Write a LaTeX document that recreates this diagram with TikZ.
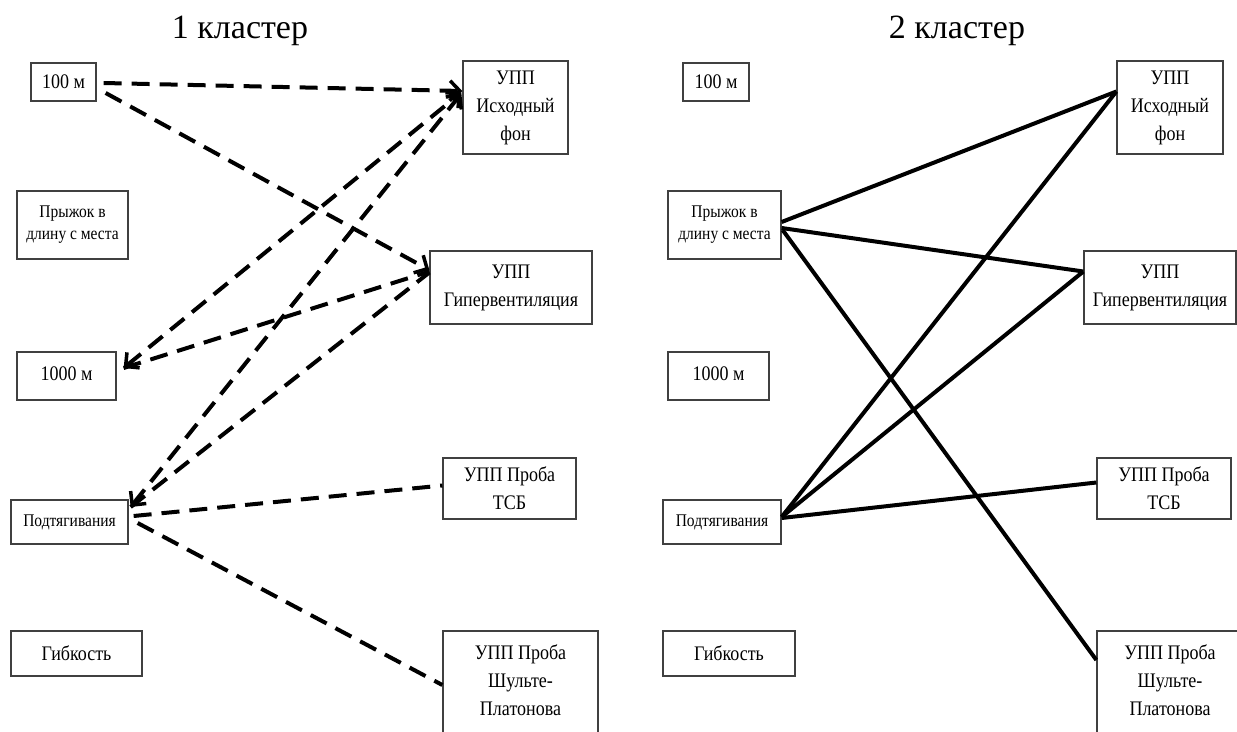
\documentclass[tikz,border=0pt]{standalone}
\usepackage{fontspec}
\usepackage{graphicx}
\setmainfont{Liberation Serif}
\usetikzlibrary{arrows.meta,calc}
\newcommand\tx[1]{\scalebox{1}[1.15]{#1}}
\newcommand\txr[1]{\raisebox{5pt}{\scalebox{1}[1.15]{#1}}}
\begin{document}
\begin{tikzpicture}[x=1pt,y=-1pt,
  box/.style={draw=black!75, line width=1.3pt, inner sep=0pt, align=center, font=\fontsize{18}{28}\selectfont},
  sbox/.style={box, font=\fontsize{15.5}{22}\selectfont},
  ttl/.style={inner sep=0pt, font=\fontsize{34}{38}\selectfont},
  dl/.style={line width=4pt, dash pattern=on 18pt off 10pt},
  sl/.style={line width=4pt},
  tipend/.style={-{Straight Barb[length=10pt,width=20pt,line width=3.5pt]}},
  tipboth/.style={{Straight Barb[length=10pt,width=20pt,line width=3.5pt]}-{Straight Barb[length=10pt,width=20pt,line width=3.5pt]}}
]
\fill[white] (0,0) rectangle (1237,731);
\useasboundingbox (0,0) rectangle (1237,731);

% titles
\node[ttl] (t1) at (240,31) {1 кластер};
\node[ttl] (t2) at (957,31) {2 кластер};

% left cluster
\node[box, minimum width=65pt, minimum height=38pt] (a100) at (63.5,82) {\tx{100 м}};
\node[box, minimum width=105pt, minimum height=93pt] (aisx) at (515.5,107.5) {\tx{УПП}\\\tx{Исходный}\\\tx{фон}};
\node[sbox, minimum width=111pt, minimum height=68pt] (ajump) at (72.5,225) {\txr{Прыжок в}\\\txr{длину с места}};
\node[box, minimum width=162pt, minimum height=73pt] (ahyp) at (511,287.5) {\tx{УПП}\\\tx{Гипервентиляция}};
\node[box, minimum width=99pt, minimum height=48pt] (a1000) at (66.5,376) {\txr{1000 м}};
\node[sbox, minimum width=117pt, minimum height=44pt] (apull) at (69.5,522) {\tx{Подтягивания}};
\node[box, minimum width=133pt, minimum height=61pt] (atsb) at (509.5,488.5) {\tx{УПП Проба}\\\tx{ТСБ}};
\node[box, minimum width=131pt, minimum height=45pt] (aflex) at (76.5,653.5) {\tx{Гибкость}};
\node[box, minimum width=155pt, minimum height=104pt] (ashu) at (520.5,683) {\txr{УПП Проба}\\\txr{Шульте-}\\\txr{Платонова}};

% right cluster
\node[box, minimum width=66pt, minimum height=38pt] (b100) at (716,82) {\tx{100 м}};
\node[box, minimum width=106pt, minimum height=93pt] (bisx) at (1170,107.5) {\tx{УПП}\\\tx{Исходный}\\\tx{фон}};
\node[sbox, minimum width=113pt, minimum height=68pt] (bjump) at (724.5,225) {\txr{Прыжок в}\\\txr{длину с места}};
\node[box, minimum width=152pt, minimum height=73pt] (bhyp) at (1160,287.5) {\tx{УПП}\\\tx{Гипервентиляция}};
\node[box, minimum width=101pt, minimum height=48pt] (b1000) at (718.5,376) {\txr{1000 м}};
\node[sbox, minimum width=118pt, minimum height=44pt] (bpull) at (722,522) {\tx{Подтягивания}};
\node[box, minimum width=134pt, minimum height=61pt] (btsb) at (1164,488.5) {\tx{УПП Проба}\\\tx{ТСБ}};
\node[box, minimum width=132pt, minimum height=45pt] (bflex) at (729,653.5) {\tx{Гибкость}};
\node[box, minimum width=146pt, minimum height=104pt] (bshu) at (1170,683) {\txr{УПП Проба}\\\txr{Шульте-}\\\txr{Платонова}};

% left connectors (dashed)
\draw[dl,tipend] ($(a100.east)+(7,1)$) -- ($(aisx.west)+(0,-16.5)$);
\draw[dl,tipend] ($(a100.east)+(9,11)$) -- ($(ahyp.west)+(0,-17.5)$);
\draw[dl,tipboth] ($(a1000.east)+(7,-8)$) -- ($(aisx.west)+(-1,-15)$);
\draw[dl] ($(a1000.east)+(7,-8)$) -- ($(ahyp.west)+(0,-16)$);
\draw[dl,tipboth] ($(apull.east)+(2,-15)$) -- ($(aisx.west)+(-1,-14)$);
\draw[dl] ($(apull.east)+(2,-15)$) -- ($(ahyp.west)+(0,-15)$);
\draw[dl] ($(apull.east)+(5,-6)$) -- ($(atsb.west)+(0,-3)$);
\draw[dl] ($(apull.east)+(9,1)$) -- ($(ashu.west)+(0,2)$);

% right connectors (solid)
\draw[sl] ($(bjump.east)+(0,-3)$) -- ($(bisx.west)+(0,-16)$);
\draw[sl] ($(bjump.east)+(0,3)$) -- ($(bhyp.west)+(0,-16)$);
\draw[sl] ($(bjump.east)+(1,5)$) -- ($(bshu.west)+(0,-23)$);
\draw[sl] ($(bpull.east)+(0,-5)$) -- ($(bisx.west)+(0,-16)$);
\draw[sl] ($(bpull.east)+(0,-5)$) -- ($(bhyp.west)+(0,-16)$);
\draw[sl] ($(bpull.east)+(0,-4)$) -- ($(btsb.west)+(0,-6)$);
\end{tikzpicture}
\end{document}
